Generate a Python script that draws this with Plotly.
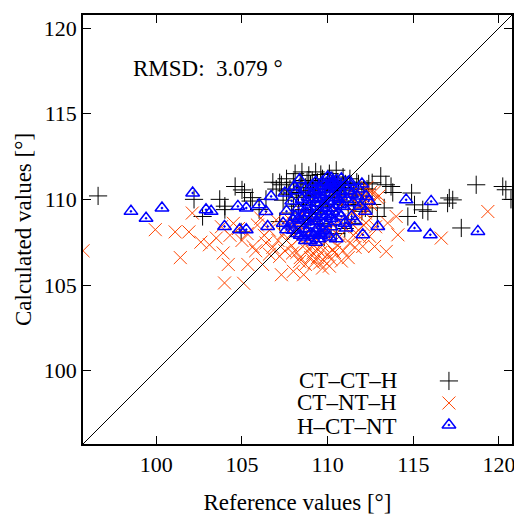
import plotly.graph_objects as go

# ---------------- data ----------------
# CT-CT-H  (black +)
cch_x = [96.6, 102.2, 102.7, 103.7, 104.0, 104.6, 105.0, 105.15, 105.6, 106.4, 107.3, 107.4, 107.2, 104.95,
         104.0, 106.0, 105.5,
         107.8, 108.0, 108.2, 108.4, 108.5, 108.6, 108.7, 108.8, 108.9, 109.0, 109.1, 109.2, 109.3, 109.4,
         109.5, 109.6, 109.7, 109.8, 109.9, 110.0, 110.1, 110.2, 110.3, 110.4, 110.5, 110.6, 110.7, 110.8,
         110.9, 111.0, 111.05, 111.3, 111.5, 111.7, 112.0, 112.6, 113.1, 113.4, 113.7, 113.8, 112.3,
         108.3, 108.6, 109.0, 109.3, 109.6, 110.0, 110.4, 110.8, 108.9, 109.5, 110.2, 111.2, 111.6, 112.2,
         107.9, 108.1, 109.8, 110.5, 111.0,
         114.9, 115.07, 114.68, 115.55, 115.85, 117.1, 117.0, 117.3, 117.8, 118.67, 120.22, 120.4,
         112.9, 113.3, 120.7, 107.2, 107.6,
         106.8, 107.0, 107.6, 108.1, 108.5, 108.9, 109.3, 109.6, 110.1, 110.5, 110.9, 111.3, 111.8, 112.1,
         112.4, 107.7, 108.3, 109.1, 109.9, 110.6, 111.5, 112.0, 112.6, 108.0, 111.4]
cch_y = [110.2, 110.0, 109.0, 110.0, 109.4, 110.75, 110.55, 110.4, 110.1, 110.0, 110.85, 109.95, 108.7, 108.1,
         109.6, 109.4, 109.9,
         110.6, 111.0, 110.4, 110.9, 111.1, 110.2, 110.7, 111.0, 110.5, 110.9, 111.1, 110.3, 110.8, 111.0,
         110.6, 110.9, 111.2, 110.4, 110.8, 111.0, 110.6, 110.9, 111.1, 110.5, 110.8, 111.0, 110.3, 110.7,
         110.9, 110.5, 110.9, 110.6, 110.3, 111.0, 110.2, 110.97, 111.35, 110.85, 110.75, 110.4, 110.6,
         109.7, 109.4, 109.8, 109.2, 109.6, 109.3, 109.7, 109.9, 108.9, 108.6, 108.5, 109.4, 109.8, 109.5,
         109.2, 108.4, 107.8, 108.0, 108.3,
         110.37, 109.68, 109.0, 109.39, 109.3, 110.08, 109.78, 109.97, 108.33, 110.85, 110.75, 110.56,
         109.0, 109.5, 110.0, 110.97, 110.5,
         111.0, 110.6, 111.2, 111.5, 111.6, 111.4, 111.6, 111.45, 111.5, 111.7, 111.3, 111.2, 110.9, 110.6,
         110.9, 110.3, 110.1, 110.2, 110.1, 110.2, 109.7, 109.3, 109.7, 109.6, 108.6]

# CT-NT-H  (orange x)
cnh_x = [95.72, 99.94, 101.1, 101.9, 101.4, 102.1, 103.1, 103.5, 103.9, 103.98, 105.1, 105.34, 106.2, 105.64,
         106.4, 107.2, 107.95, 107.6, 104.3, 104.8, 105.3, 105.9, 106.6, 107.0, 106.1, 104.5, 103.8, 107.4,
         108.36, 109.53, 109.7, 109.14, 110.3, 110.7, 111.28, 112.05, 111.86, 112.25, 114.0, 113.5, 114.1,
         112.74, 113.42, 112.45, 116.63, 119.35,
         107.9, 108.1, 108.3, 108.5, 108.7, 108.9, 109.1, 109.3, 109.5, 109.7, 109.9, 110.1, 110.3, 110.5,
         110.7, 110.9, 111.1, 111.3, 111.5, 111.7, 111.9, 112.2, 112.5, 112.8, 109.0, 109.2, 108.8, 109.4,
         110.0, 110.2, 108.2, 108.6, 109.0, 110.4, 110.8, 111.6, 112.0, 112.4, 112.6, 113.0, 111.2, 110.6,
         107.7, 107.5, 106.8, 106.3, 105.0, 108.0, 108.6, 111.8, 112.3, 112.7,
         107.6, 107.9, 108.2, 108.4, 108.7, 109.1, 109.4, 109.6, 109.8, 110.1, 110.4, 110.6, 110.9, 111.2,
         111.5, 111.8, 112.1, 112.3, 112.5, 112.9, 108.0, 108.4, 107.1, 106.6, 105.8, 104.2, 102.6, 107.3,
         110.8, 111.6]
cnh_y = [107.0, 108.23, 108.1, 108.1, 106.6, 109.2, 107.35, 107.74, 106.87, 105.12, 105.1, 106.2, 106.2, 107.25,
         107.45, 106.67, 106.87, 107.6, 107.9, 108.3, 108.0, 108.5, 108.2, 108.8, 108.9, 108.6, 108.4, 108.0,
         106.38, 106.28, 105.99, 106.87, 107.06, 107.84, 107.45, 107.25, 107.84, 108.62, 109.0, 108.62, 107.93,
         107.25, 106.96, 107.84, 107.74, 109.29,
         108.0, 108.6, 107.7, 108.3, 107.4, 108.1, 107.6, 108.4, 107.9, 107.3, 108.2, 107.7, 108.5, 108.0,
         108.8, 108.4, 109.0, 108.7, 109.3, 108.9, 109.6, 109.2, 109.7, 108.4, 106.6, 106.3, 107.0, 107.1,
         106.8, 106.5, 108.9, 109.2, 109.0, 109.4, 109.7, 110.0, 110.1, 110.3, 109.9, 110.2, 110.3, 110.0,
         108.9, 107.0, 107.2, 107.9, 107.6, 105.8, 105.6, 110.5, 110.7, 110.4,
         108.5, 107.3, 106.9, 106.6, 106.2, 107.2, 106.6, 106.9, 106.4, 106.1, 106.9, 107.3, 107.0, 106.6,
         107.9, 108.2, 108.5, 109.4, 110.4, 110.1, 108.4, 109.0, 107.6, 106.8, 107.0, 106.2, 107.5, 105.6,
         106.4, 107.2]

# H-CT-NT  (blue triangles)
hcn_x = [98.52, 99.4, 100.33, 102.12, 102.9, 103.2, 103.98, 104.86, 105.25, 104.76, 105.25, 106.0, 106.7,
         106.4, 106.5, 107.5, 107.6, 108.07, 114.58, 116.04, 115.07, 115.99, 118.77, 112.93, 112.25, 112.05,
         111.08, 108.36, 111.28, 110.2,
         107.8, 108.0, 108.1, 108.2, 108.3, 108.4, 108.5, 108.6, 108.7, 108.8, 108.9, 109.0, 109.1, 109.2,
         109.3, 109.4, 109.5, 109.6, 109.7, 109.8, 109.9, 110.0, 110.1, 110.2, 110.3, 110.4, 110.5, 110.6,
         110.7, 110.9, 111.1, 111.3, 111.5, 111.7, 108.6, 109.0, 109.4, 109.8, 110.2, 109.2, 108.8, 111.9,
         112.2, 111.4, 107.6, 107.9, 108.2, 108.7, 109.3, 107.4, 110.8, 111.6, 109.5,
         108.4, 108.6, 108.8, 108.9, 109.0, 109.1, 109.2, 109.3, 109.4, 109.5, 109.6, 109.7, 109.8, 109.9,
         110.0, 110.1, 110.2, 110.3, 110.4, 110.5, 110.6, 110.7, 110.8, 110.9, 111.0, 109.0, 109.3, 109.6,
         109.9, 110.1, 109.7, 110.0, 110.3, 109.1, 108.5, 108.3, 108.0, 109.45, 109.55, 109.85, 110.45,
         110.65, 111.2, 111.4, 111.8, 112.0, 112.4, 111.0, 110.5, 108.7]
hcn_y = [109.3, 108.9, 109.49, 110.37, 109.39, 109.3, 108.42, 108.23, 108.23, 109.59, 109.49, 109.68, 110.17,
         109.29, 108.42, 110.37, 108.23, 110.75, 109.97, 109.88, 108.33, 107.93, 108.13, 108.42, 110.17, 107.93,
         108.33, 111.14, 111.04, 111.24,
         108.5, 108.2, 109.0, 108.0, 109.5, 108.6, 110.0, 108.3, 109.2, 109.8, 108.7, 110.3, 109.4, 108.9,
         110.1, 109.6, 110.6, 109.1, 110.0, 110.8, 109.5, 110.4, 109.9, 110.9, 109.3, 110.6, 110.1, 110.8,
         109.7, 110.3, 110.0, 110.5, 109.8, 110.2, 107.8, 108.0, 108.3, 108.6, 108.9, 107.9, 108.1, 109.6,
         109.3, 109.0, 109.3, 109.9, 110.5, 110.6, 111.0, 108.6, 109.0, 108.7, 107.7,
         107.9, 108.8, 109.5, 110.1, 108.5, 109.0, 110.5, 109.8, 108.7, 109.3, 110.3, 108.2, 109.7, 110.6,
         109.1, 110.9, 108.4, 110.2, 109.5, 111.1, 109.2, 110.5, 111.2, 109.6, 110.8, 107.6, 107.5, 107.9,
         108.1, 107.8, 111.0, 111.3, 111.0, 110.8, 109.0, 108.9, 108.8, 110.0, 108.0, 109.0, 108.7,
         110.0, 111.0, 110.3, 110.6, 110.9, 109.9, 108.6, 107.7, 107.6]

series_names = ["CT\u2013CT\u2013H", "CT\u2013NT\u2013H", "H\u2013CT\u2013NT"]
tick_vals = [100, 105, 110, 115, 120]
ax_min, ax_max = 95.72, 120.76
rmsd_text = "RMSD:\u00a0 3.079 \u00b0"

# ---------------- styling ----------------
FONT = "Liberation Serif, Times New Roman, serif"
colors = ["#000000", "#ff4500", "#0000ff"]
symbols = ["cross-thin-open", "x-thin-open", "triangle-up-open-dot"]
sizes = [13, 13, 12]
lwidths = [1.0, 1.0, 1.5]

fig = go.Figure()
for xs, ys, c, s, sz, lw, nm in zip([cch_x, cnh_x, hcn_x], [cch_y, cnh_y, hcn_y],
                                     colors, symbols, sizes, lwidths, series_names):
    fig.add_trace(go.Scatter(x=xs, y=ys, mode="markers", name=nm, showlegend=False,
                             marker=dict(symbol=s, size=sz, color=c, line=dict(color=c, width=lw))))

# legend keys on an overlay paper-like axis
key_x = 0.853
key_y = [0.147, 0.0956, 0.0443]
for c, s, sz, lw, ky in zip(colors, symbols, sizes, lwidths, key_y):
    fig.add_trace(go.Scatter(x=[key_x], y=[ky], mode="markers", showlegend=False, hoverinfo="skip",
                             xaxis="x2", yaxis="y2",
                             marker=dict(symbol=s, size=sz, color=c, line=dict(color=c, width=lw))))

text_y = [0.149, 0.096, 0.040]
for nm, ty in zip(series_names, text_y):
    fig.add_annotation(x=0.737, y=ty, xref="paper", yref="paper", text=nm, showarrow=False,
                       xanchor="right", yanchor="middle", font=dict(family=FONT, size=23, color="black"))

fig.add_annotation(x=0.112, y=0.876, xref="paper", yref="paper", text=rmsd_text, showarrow=False,
                   xanchor="left", yanchor="middle", font=dict(family=FONT, size=23, color="black"))

# diagonal y = x
fig.add_shape(type="line", x0=ax_min, y0=ax_min, x1=ax_max, y1=ax_max, xref="x", yref="y",
              line=dict(color="black", width=1), layer="above")

axis_common = dict(range=[ax_min, ax_max], tickvals=tick_vals, ticks="inside", ticklen=8, tickwidth=1,
                   tickcolor="black", showline=True, linecolor="black", linewidth=1.5, mirror="allticks",
                   showgrid=False, zeroline=False, automargin=False,
                   tickfont=dict(family=FONT, size=22, color="black"))

# page body adds an 8px offset, so the figure is 8px smaller and margins shifted
fig.update_layout(
    width=514, height=508,
    margin=dict(l=75, r=10, t=7, b=72, autoexpand=False),
    paper_bgcolor="white", plot_bgcolor="white",
    showlegend=False,
    xaxis=dict(**axis_common, title=dict(text="Reference values [\u00b0]", standoff=18,
                                         font=dict(family=FONT, size=23, color="black"))),
    yaxis=dict(**axis_common, title=dict(text="Calculated values [\u00b0]", standoff=6,
                                         font=dict(family=FONT, size=23, color="black"))),
    xaxis2=dict(range=[0, 1], overlaying="x", visible=False, fixedrange=True),
    yaxis2=dict(range=[0, 1], overlaying="y", visible=False, fixedrange=True),
)

fig.write_html("out.html")
